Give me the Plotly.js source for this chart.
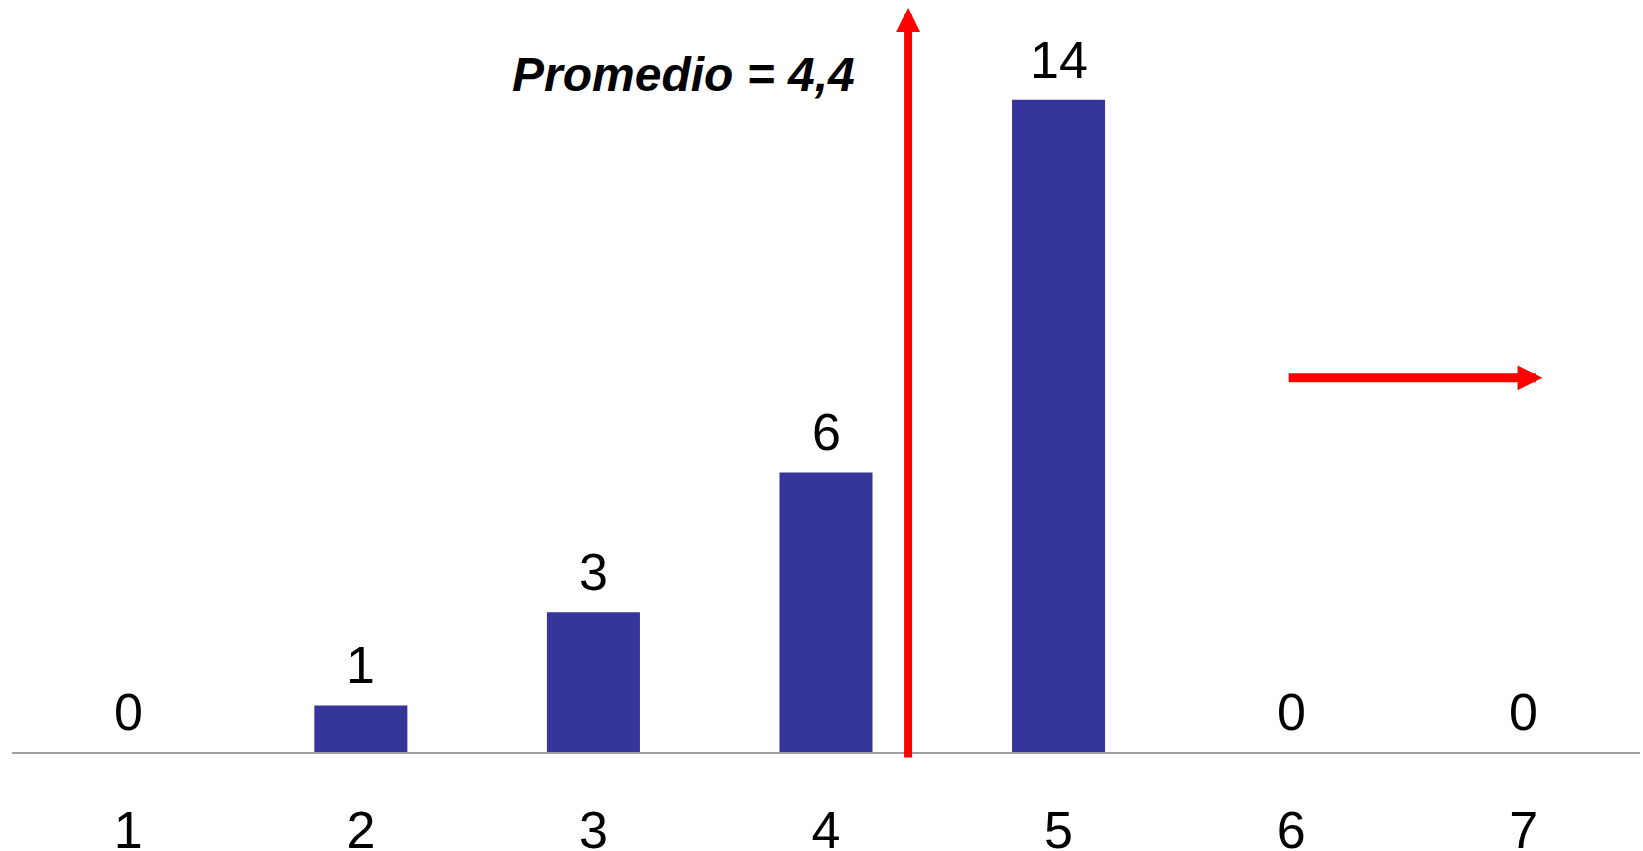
<!DOCTYPE html>
<html>
<head>
<meta charset="utf-8">
<script src="https://cdn.plot.ly/plotly-3.0.1.min.js"></script>
<style>html,body{margin:0;padding:0;background:#fff;}#chart{width:1643px;height:851px;}</style>
</head>
<body>
<div id="chart"></div>
<script>
// Data
const categories = [1, 2, 3, 4, 5, 6, 7];
const counts = [0, 1, 3, 6, 14, 0, 0];
const tickLabels = ['1', '2', '3', '4', '5', '6', '7'];
const meanLabel = 'Promedio = 4,4';
const meanPosition = 4.353;

const FONT = 'Liberation Sans, Arial, sans-serif';

const valueAnnotations = categories.map((c, i) => ({
  x: c, y: counts[i], xref: 'x', yref: 'y',
  text: String(counts[i]), showarrow: false,
  yanchor: 'bottom', yshift: 9,
  font: {family: FONT, size: 52, color: '#000'}
}));

const layout = {
  width: 1643, height: 851,
  margin: {l: 12, r: 3, t: 0, b: 99},
  paper_bgcolor: '#fff', plot_bgcolor: '#fff',
  showlegend: false,
  bargap: 0.6,
  xaxis: {
    range: [0.5, 7.5], tickmode: 'array', tickvals: categories, ticktext: tickLabels,
    showgrid: false, zeroline: false, showline: true, linecolor: '#a0a0a0', linewidth: 2,
    ticks: '', ticklabelstandoff: 32,
    tickfont: {family: FONT, size: 52, color: '#000'}, fixedrange: true
  },
  yaxis: {
    range: [0, 16.14], visible: false, showgrid: false, zeroline: false, fixedrange: true
  },
  annotations: valueAnnotations.concat([
    {
      x: meanPosition, y: 15.97, ax: meanPosition, ay: -0.15,
      xref: 'x', yref: 'y', axref: 'x', ayref: 'y',
      text: '', showarrow: true, arrowhead: 2, arrowsize: 0.6, arrowwidth: 8,
      arrowcolor: '#ff0000', standoff: 0, startstandoff: 0
    },
    {
      x: 7.08, y: 8.03, ax: 5.983, ay: 8.03,
      xref: 'x', yref: 'y', axref: 'x', ayref: 'y',
      text: '', showarrow: true, arrowhead: 2, arrowsize: 0.55, arrowwidth: 9,
      arrowcolor: '#ff0000', standoff: 0, startstandoff: 0
    },
    {
      x: 4.135, y: 14.55, xref: 'x', yref: 'y', xanchor: 'right', yanchor: 'middle',
      text: '<b><i>' + meanLabel + '</i></b>', showarrow: false,
      font: {family: FONT, size: 48, color: '#000'}
    }
  ])
};

const data = [{
  type: 'bar', x: categories, y: counts,
  marker: {color: '#35359a', line: {width: 0}},
  hoverinfo: 'none'
}];

Plotly.newPlot('chart', data, layout, {displayModeBar: false, staticPlot: true});
</script>
</body>
</html>
